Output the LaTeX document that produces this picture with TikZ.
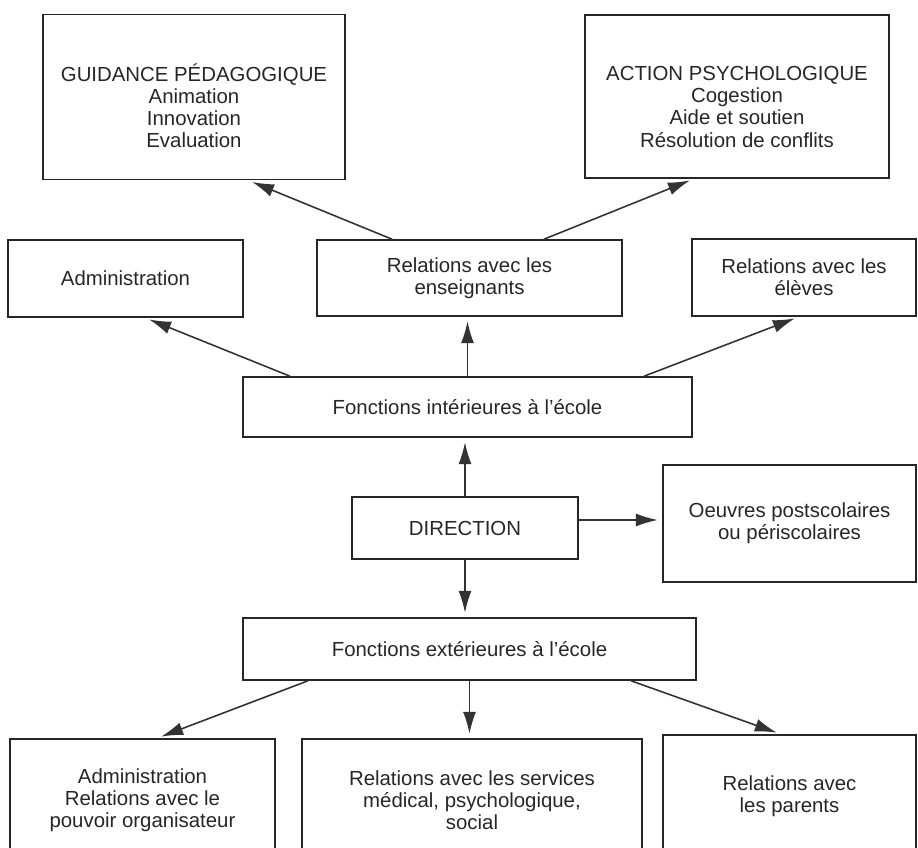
\documentclass[tikz,border=0pt]{standalone}
\usepackage{fontspec}
\setmainfont{Liberation Sans}
\usetikzlibrary{arrows.meta}

\begin{document}
\begin{tikzpicture}[
  box/.style={draw=black!85,line width=0.9pt,align=center,text=black!85,
    font=\fontsize{11.6}{12.6}\selectfont,inner sep=0pt},
  arr/.style={draw=black!80,line width=0.9pt,shorten >=2.5pt,
    -{Latex[length=4.4mm,width=2.6mm]}}
]
\useasboundingbox (0,0) rectangle (18.36,16.94);
\clip (0,0) rectangle (18.36,16.94);

% Top row
\node[box,minimum width=6.04cm,minimum height=3.3cm] (guid) at (3.88,15.0)
  {\rule{0pt}{7mm}GUIDANCE PÉDAGOGIQUE\\Animation\\Innovation\\Evaluation};
\node[box,minimum width=6.08cm,minimum height=3.26cm] (act) at (14.74,15.01)
  {\rule{0pt}{7mm}ACTION PSYCHOLOGIQUE\\Cogestion\\Aide et soutien\\Résolution de conflits};

% Second row
\node[box,minimum width=4.7cm,minimum height=1.54cm] (admin) at (2.51,11.37) {Administration};
\node[box,minimum width=6.1cm,minimum height=1.52cm] (ens) at (9.39,11.38)
  {Relations avec les\\enseignants};
\node[box,minimum width=4.48cm,minimum height=1.54cm] (eleves) at (16.08,11.39)
  {Relations avec les\\élèves};

% Middle
\node[box,minimum width=8.98cm,minimum height=1.2cm] (fint) at (9.35,8.8)
  {Fonctions intérieures à l’école};
\node[box,minimum width=4.52cm,minimum height=1.24cm] (dir) at (9.3,6.38) {DIRECTION};
\node[box,minimum width=5.06cm,minimum height=2.34cm] (oeuvres) at (15.79,6.47)
  {Oeuvres postscolaires\\ou périscolaires};
\node[box,minimum width=9.06cm,minimum height=1.24cm] (fext) at (9.39,3.96)
  {Fonctions extérieures à l’école};

% Bottom row
\node[box,minimum width=5.3cm,minimum height=2.44cm] (admin2) at (2.85,0.94)
  {Administration\\Relations avec le\\pouvoir organisateur};
\node[box,minimum width=6.8cm,minimum height=2.44cm] (serv) at (9.44,0.94)
  {Relations avec les services\\médical, psychologique,\\social};
\node[box,minimum width=5.06cm,minimum height=2.44cm] (par) at (15.79,1.02)
  {Relations avec\\les parents};

% Arrows
\draw[arr] ([xshift=-1.55cm]ens.north) -- ([xshift=1.08cm]guid.south);
\draw[arr] ([xshift=1.49cm]ens.north) -- ([xshift=-0.86cm]act.south);
\draw[arr] ([xshift=-3.55cm]fint.north) -- ([xshift=0.39cm]admin.south);
\draw[arr] (fint.north) -- (fint.north |- ens.south);
\draw[arr] ([xshift=3.53cm]fint.north) -- ([xshift=-0.1cm]eleves.south);
\draw[arr] (dir.north) -- (dir.north |- fint.south);
\draw[arr] ([yshift=1.6mm]dir.east) -- ([yshift=1.6mm]dir.east -| oeuvres.west);
\draw[arr] (dir.south) -- (dir.south |- fext.north);
\draw[arr] ([xshift=-3.23cm]fext.south) -- ([xshift=0.29cm]admin2.north);
\draw[arr] (fext.south) -- (fext.south |- serv.north);
\draw[arr] ([xshift=3.23cm]fext.south) -- ([xshift=-0.17cm]par.north);
\end{tikzpicture}
\end{document}
